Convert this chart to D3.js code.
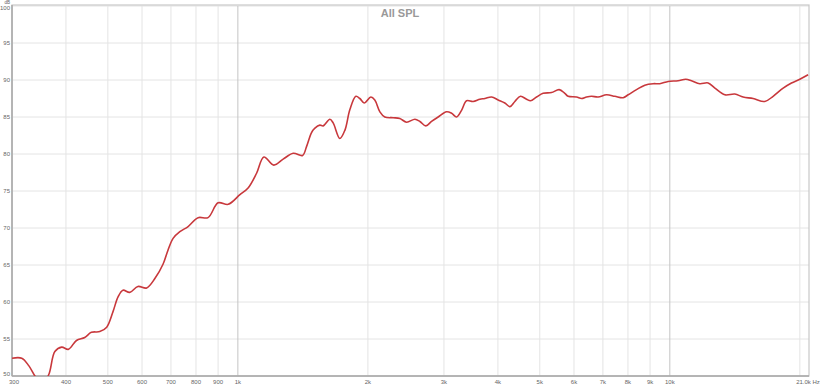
<!DOCTYPE html>
<html>
<head>
<meta charset="utf-8">
<script src="https://cdn.jsdelivr.net/npm/d3@7"></script>
<style>
  html, body { margin: 0; padding: 0; background: #fff; }
  svg { display: block; font-family: "Liberation Sans", Arial, sans-serif; }
</style>
</head>
<body>
<svg id="chart" width="820" height="386"></svg>
<script>
// ---- data ----
const freqs = [300,316,328,339,352,365,377,391,405,423,442,458,479,497,514,528,542,562,587,615,643,671,689,
  708,734,767,809,853,900,950,1011,1056,1105,1149,1211,1273,1343,1412,1442,1481,1508,1548,1576,1633,1662,1722,1769,
  1817,1876,1916,1961,2032,2075,2132,2189,2288,2371,2458,2570,2639,2724,2808,2909,3042,3125,3209,3295,3384,3505,
  3633,3731,3867,4005,4150,4263,4378,4512,4660,4759,4914,5090,5322,5544,5714,5816,6081,6246,6415,6588,6823,7137,
  7460,7797,8008,8374,8752,9148,9481,9911,10452,10890,11225,11731,12266,12716,13412,14140,14781,15592,16592,17345,
  18297,19127,19995,20900];
const spl = [52.4,52.4,51.4,50.0,48.8,50.2,53.3,53.9,53.6,54.8,55.2,55.9,56.0,56.6,58.7,60.7,61.6,61.3,62.1,61.9,63.2,65.1,67.0,
  68.6,69.5,70.2,71.4,71.4,73.4,73.2,74.5,75.4,77.4,79.6,78.5,79.3,80.1,79.8,81.0,82.9,83.5,83.9,83.8,84.7,84.2,82.1,83.2,
  86.0,87.8,87.5,86.9,87.7,87.3,85.7,85.0,84.9,84.8,84.3,84.7,84.4,83.8,84.4,85.0,85.7,85.5,85.0,85.9,87.2,87.1,
  87.4,87.5,87.7,87.3,86.9,86.4,87.1,87.8,87.4,87.2,87.7,88.2,88.3,88.7,88.2,87.8,87.7,87.5,87.7,87.8,87.7,88.0,
  87.8,87.6,88.0,88.7,89.3,89.5,89.5,89.8,89.9,90.1,89.9,89.5,89.6,88.9,88.0,88.1,87.7,87.5,87.1,87.8,
  88.9,89.6,90.1,90.7];
const xTicks = [300,400,500,600,700,800,900,1000,2000,3000,4000,5000,6000,7000,8000,9000,10000];
const xTickLabels = ["300","400","500","600","700","800","900","1k","2k","3k","4k","5k","6k","7k","8k","9k","10k"];
const xGridExtra = [20000];
const yTicks = [50,55,60,65,70,75,80,85,90,95,100];
const xDomain = [300, 21000];
const yDomain = [50, 100];
const title = "All SPL";
const xEndLabel = "21.0k Hz";
const yUnit = "dB";

// ---- layout ----
const svg = d3.select("#chart");
const L = 12, R = 809, T = 6, B = 376;
const x = d3.scaleLog().domain(xDomain).range([L, R]);
const y = d3.scaleLinear().domain(yDomain).range([B, T]);

// grid
const grid = svg.append("g");
grid.selectAll("line.h").data(yTicks).join("line")
  .attr("x1", L).attr("x2", R)
  .attr("y1", d => y(d)).attr("y2", d => y(d))
  .attr("stroke", "#e4e4e4").attr("stroke-width", 1);
grid.selectAll("line.v").data(xTicks.concat(xGridExtra)).join("line")
  .attr("x1", d => x(d)).attr("x2", d => x(d))
  .attr("y1", T).attr("y2", B)
  .attr("stroke", d => (d === 1000 || d === 10000) ? "#c4c4c4" : "#e4e4e4")
  .attr("stroke-width", 1);

// frame
svg.append("rect").attr("x", L).attr("y", T - 1).attr("width", R - L).attr("height", B - T + 1)
  .attr("fill", "none").attr("stroke", "#c8c8c8").attr("stroke-width", 1.2);
svg.append("line").attr("x1", L).attr("x2", L).attr("y1", T - 1).attr("y2", B)
  .attr("stroke", "#a8a8a8").attr("stroke-width", 1.5);
svg.append("line").attr("x1", L).attr("x2", R).attr("y1", B).attr("y2", B)
  .attr("stroke", "#a8a8a8").attr("stroke-width", 1.5);

// y tick labels
svg.append("g").selectAll("text").data(yTicks).join("text")
  .attr("x", L - 2)
  .attr("y", d => d === yDomain[0] ? y(d) - 2 : (d === yDomain[1] ? y(d) + 1.5 : y(d)))
  .attr("dy", "0.35em")
  .attr("text-anchor", "end").attr("font-size", 6).attr("fill", "#666")
  .text(d => d);
svg.append("text").attr("x", L - 2).attr("y", 3.6).attr("text-anchor", "end")
  .attr("font-size", 4.6).attr("fill", "#666").text(yUnit);

// x tick labels
svg.append("g").selectAll("text").data(xTicks).join("text")
  .attr("x", (d, i) => i === 0 ? x(d) + 2 : x(d)).attr("y", B + 7.5)
  .attr("text-anchor", "middle").attr("font-size", 6).attr("fill", "#666")
  .text((d, i) => xTickLabels[i]);
svg.append("text").attr("x", x(21000) - 1).attr("y", B + 7.5).attr("text-anchor", "middle")
  .attr("font-size", 6).attr("fill", "#666").text(xEndLabel);

// title
svg.append("text").attr("x", 400).attr("y", 17).attr("text-anchor", "middle")
  .attr("font-size", 11).attr("font-weight", "bold").attr("fill", "#999").text(title);

// curve
svg.append("clipPath").attr("id", "clip").append("rect")
  .attr("x", L).attr("y", T).attr("width", R - L).attr("height", B - T);
const pts = freqs.map((f, i) => [f, spl[i]]);
const line = d3.line().x(d => x(d[0])).y(d => y(d[1])).curve(d3.curveCatmullRom.alpha(0.5));
svg.append("path").datum(pts)
  .attr("clip-path", "url(#clip)")
  .attr("fill", "none").attr("stroke", "#c8383c").attr("stroke-width", 1.6)
  .attr("stroke-linejoin", "round")
  .attr("d", line);
</script>
</body>
</html>
